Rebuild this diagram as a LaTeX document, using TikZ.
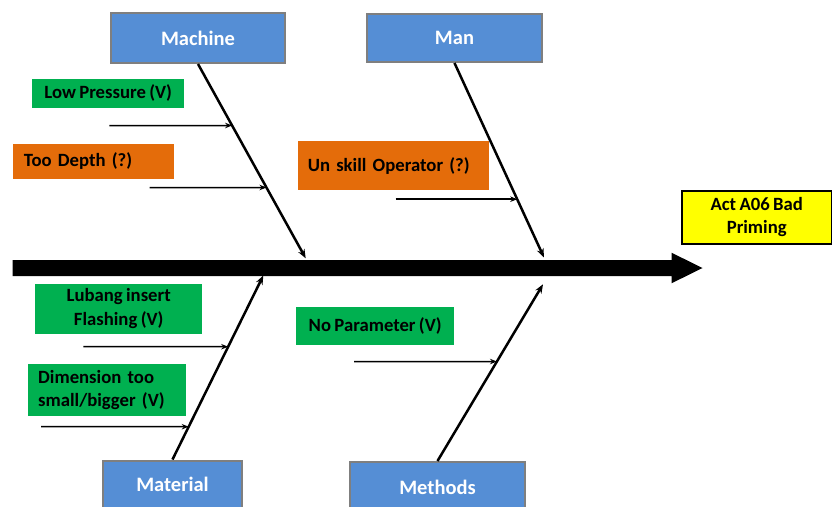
\documentclass[tikz,border=0pt]{standalone}
\usepackage{fontspec}
\setmainfont{Carlito}[WordSpace=0.8]
\usetikzlibrary{arrows.meta,calc}
\definecolor{catblue}{HTML}{558ED5}
\definecolor{catborder}{HTML}{7F7F7F}
\definecolor{cgreen}{HTML}{00B050}
\definecolor{corange}{HTML}{E46C0A}
\definecolor{cyellow}{HTML}{FFFF00}
\tikzset{
  lbl/.style={font=\fontsize{18.7}{23.3}\selectfont\bfseries, inner sep=0pt, anchor=north west},
  catbox/.style={lbl, font=\fontsize{20.5}{24}\selectfont\bfseries, draw=catborder, line width=2pt, fill=catblue, text=white},
  greenbox/.style={lbl, fill=cgreen, text=black},
  orangebox/.style={lbl, fill=corange, text=black},
  effectbox/.style={lbl, draw=black, line width=1.5pt, fill=cyellow, align=center},
  bone/.style={line width=2.5pt, -{Stealth[length=9pt,width=7pt]}},
  twig/.style={line width=1.5pt, -{Stealth[length=7pt,width=5.5pt]}},
}
\begin{document}
\begin{tikzpicture}[x=1pt,y=-1pt]
\useasboundingbox (0,0) rectangle (832,506);
% spine
\coordinate (spL) at (12.7,260);
\fill (spL) -- (671.5,260) -- (671.5,252.7) -- (702.5,268) -- (671.5,283.3) -- (671.5,276) -- (12.7,276) -- cycle;
% category boxes
\node[catbox, minimum width=174pt, minimum height=50pt] (machine) at (110,12) {Machine};
\node[catbox, minimum width=175pt, minimum height=48pt] (man) at (366,13) {Man};
\node[catbox, minimum width=139pt, minimum height=48pt] (material) at (102,459.5) {Material};
\node[catbox, minimum width=175pt, minimum height=50pt] (methods) at (349,461) {Methods};
% effect
\node[effectbox, minimum width=150pt, minimum height=53pt] (effect) at (681,190) {Act A06 Bad\\Priming};
% cause boxes
\node[greenbox, minimum width=152pt, minimum height=29pt] (lp) at (32,78.3) {Low Pressure (V)};
\node[orangebox, minimum height=35.4pt, text width=139pt, inner xsep=11pt, align=left] (td) at (12.7,143.3) {Too Depth (?)};
\node[orangebox, minimum height=49.3pt, text width=171pt, inner xsep=10pt, align=left] (uso) at (297.6,140.7) {Un skill Operator (?)};
\node[greenbox, minimum width=167pt, minimum height=50pt, align=center] (lub) at (35,283.3) {Lubang insert\\Flashing (V)};
\node[greenbox, minimum height=52pt, text width=138pt, inner xsep=10pt, align=left] (dim) at (28,364) {Dimension too\\small/bigger (V)};
\node[greenbox, minimum width=158pt, minimum height=38pt] (np) at (296,307) {No Parameter (V)};
% bone ends
\coordinate (mcE) at (305.7,258.3);
\coordinate (manE) at (544,257.5);
\coordinate (matE) at (263.3,275.5);
\coordinate (metE) at (543,284.3);
\draw[bone] (machine.south) -- (mcE);
\draw[bone] (man.south) -- (manE);
\draw[bone] (material.north) -- (matE);
\draw[bone] (methods.north) -- (metE);
% twig coordinates
\coordinate (lpS) at (109.3,125.5);
\coordinate (lpE) at (intersection of machine.south--mcE and 0,125.5--800,125.5);
\coordinate (tdS) at (149.7,187.5);
\coordinate (tdE) at (intersection of machine.south--mcE and 0,187.5--800,187.5);
\coordinate (usoS) at (395.5,199.2);
\coordinate (usoE) at (intersection of man.south--manE and 0,199.2--800,199.2);
\coordinate (lubS) at (83.3,346.7);
\coordinate (lubE) at (intersection of material.north--matE and 0,346.7--800,346.7);
\coordinate (dimS) at (41,426.7);
\coordinate (dimE) at (intersection of material.north--matE and 0,426.7--800,426.7);
\coordinate (npS) at (354,361.5);
\coordinate (npE) at (intersection of methods.north--metE and 0,361.5--800,361.5);
\draw[twig] (lpS) -- (lpE);
\draw[twig] (tdS) -- (tdE);
\draw[twig] (usoS) -- (usoE);
\draw[twig] (lubS) -- (lubE);
\draw[twig] (dimS) -- (dimE);
\draw[twig] (npS) -- (npE);
\end{tikzpicture}
\end{document}
